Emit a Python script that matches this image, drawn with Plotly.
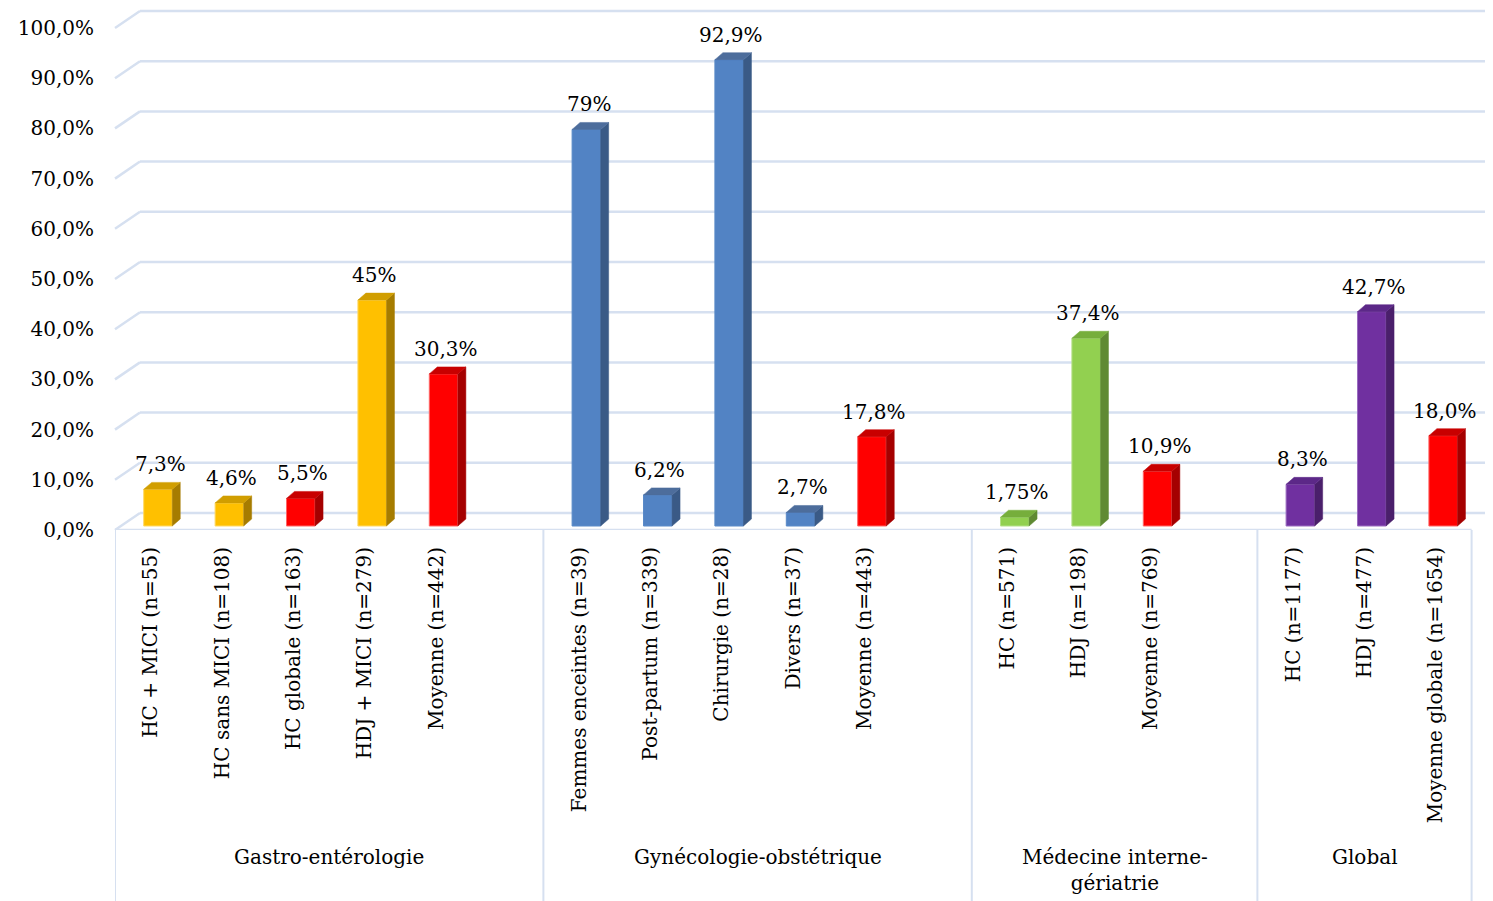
import plotly.graph_objects as go

# data
groups = ["Gastro-entérologie", "Gynécologie-obstétrique",
          "Médecine interne-<br>gériatrie", "Global"]
categories = [
    ["HC + MICI (n=55)", "HC sans MICI (n=108)", "HC globale (n=163)",
     "HDJ + MICI (n=279)", "Moyenne (n=442)"],
    ["Femmes enceintes (n=39)", "Post-partum (n=339)", "Chirurgie (n=28)",
     "Divers (n=37)", "Moyenne (n=443)"],
    ["HC (n=571)", "HDJ (n=198)", "Moyenne (n=769)"],
    ["HC (n=1177)", "HDJ (n=477)", "Moyenne globale (n=1654)"],
]
values = [7.3, 4.6, 5.5, 45, 30.3,
          79, 6.2, 92.9, 2.7, 17.8,
          1.75, 37.4, 10.9,
          8.3, 42.7, 18.0]
value_labels = ["7,3%", "4,6%", "5,5%", "45%", "30,3%",
                "79%", "6,2%", "92,9%", "2,7%", "17,8%",
                "1,75%", "37,4%", "10,9%",
                "8,3%", "42,7%", "18,0%"]
blank_after = [1, 1, 1, 0]   # empty category slot after each group
y_ticks = [0, 10, 20, 30, 40, 50, 60, 70, 80, 90, 100]

# colours: (front, side, top, outline)
GOLD = ("#FFC000", "#A67C00", "#D19E00", "#FFD966")
RED = ("#FF0000", "#A50000", "#C80000", "#FF6666")
BLUE = ("#5283C4", "#3A5A86", "#4D6D9C", "#5A8AC8")
GREEN = ("#92D050", "#5F8A33", "#76AE3C", "#B5E08A")
PURPLE = ("#7030A0", "#4A1F6B", "#5C2888", "#9A6CC0")
bar_colors = [GOLD, GOLD, RED, GOLD, RED,
              BLUE, BLUE, BLUE, BLUE, RED,
              GREEN, GREEN, RED,
              PURPLE, PURPLE, RED]

FONT = "DejaVu Serif"
GRID = "#D6E0F0"

# slot positions
xs, tick_text, bounds, centers = [], [], [], []
pos = 0
bounds.append(pos - 0.5)
for cats, gap in zip(categories, blank_after):
    start = pos
    for c in cats:
        xs.append(pos)
        tick_text.append(c)
        pos += 1
    pos += gap
    bounds.append(pos - 0.5)
    centers.append((start - 0.5 + pos - 0.5) / 2)

bar_w = 0.4
dx = 0.112    # depth offset, x units
dy = 1.39     # depth offset, y units
back = 3.39   # wall depth in label-axis units
s = 5.02      # px per percent
plot_h = 521
plot_w = 1378

fig = go.Figure()

fig.add_trace(go.Bar(
    x=xs, y=values, width=bar_w,
    marker=dict(color=[c[0] for c in bar_colors],
                line=dict(color=[c[3] for c in bar_colors], width=1)),
    hoverinfo="skip", showlegend=False,
))

for x, v, col in zip(xs, values, bar_colors):
    xl, xr = x - bar_w / 2, x + bar_w / 2
    # side face
    fig.add_trace(go.Scatter(
        x=[xr, xr + dx, xr + dx, xr, xr],
        y=[0, dy, v + dy, v, 0],
        fill="toself", fillcolor=col[1], mode="lines",
        line=dict(color=col[1], width=0.5),
        hoverinfo="skip", showlegend=False,
    ))
    # top face
    fig.add_trace(go.Scatter(
        x=[xl, xl + dx, xr + dx, xr, xl],
        y=[v, v + dy, v + dy, v, v],
        fill="toself", fillcolor=col[2], mode="lines",
        line=dict(color=col[2], width=0.5),
        hoverinfo="skip", showlegend=False,
    ))

# invisible trace to activate the label axes
fig.add_trace(go.Scatter(x=[xs[0]], y=[0], xaxis="x2", yaxis="y2",
                         mode="markers", marker=dict(opacity=0),
                         hoverinfo="skip", showlegend=False))

for x, v, t in zip(xs, values, value_labels):
    fig.add_annotation(x=x + 0.03, y=v + dy, xref="x", yref="y", text=t,
                       showarrow=False, yanchor="bottom", yshift=4,
                       font=dict(family=FONT, size=20, color="black"))

shapes = []
# back wall gridlines and left wall diagonals
for v in y_ticks:
    shapes.append(dict(type="line", xref="paper", yref="y2",
                       x0=25 / plot_w, x1=1, y0=v + back, y1=v + back,
                       line=dict(color=GRID, width=2.5), layer="below"))
    shapes.append(dict(type="line", xref="paper", yref="y2",
                       x0=0, x1=25 / plot_w, y0=v, y1=v + back,
                       line=dict(color=GRID, width=2.5), layer="below"))
# floor front edge
shapes.append(dict(type="line", xref="x2", yref="y2",
                   x0=bounds[0], x1=bounds[-1], y0=0, y1=0,
                   line=dict(color=GRID, width=2.5), layer="below"))
# group dividers
for b in bounds:
    shapes.append(dict(type="line", xref="x2", yref="paper",
                       x0=b, x1=b, y0=0, y1=-0.72,
                       line=dict(color=GRID, width=2)))

for c, g in zip(centers, groups):
    fig.add_annotation(x=c, y=-0.601, xref="x2", yref="paper", text=g,
                       showarrow=False, yanchor="top",
                       font=dict(family=FONT, size=20, color="black"))

fig.update_layout(
    width=1485, height=893, autosize=False,
    margin=dict(l=107, r=0, t=1, b=371, autoexpand=False),
    paper_bgcolor="white", plot_bgcolor="white",
    font=dict(family=FONT, size=20, color="black"),
    shapes=shapes,
    xaxis=dict(range=[-0.602, -0.602 + plot_w / 71.4], visible=False,
               fixedrange=True),
    yaxis=dict(range=[-4 / s, -4 / s + plot_h / s], visible=False,
               fixedrange=True),
    xaxis2=dict(overlaying="x", range=[-0.5, -0.5 + plot_w / 71.4],
                anchor="y2", side="bottom", tickmode="array", tickvals=xs,
                ticktext=tick_text, tickangle=-90, ticks="",
                ticklabelstandoff=12, showgrid=False, zeroline=False,
                showline=False, fixedrange=True,
                tickfont=dict(family=FONT, size=20, color="black")),
    yaxis2=dict(overlaying="y", range=[0, plot_h / s], anchor="x2",
                side="left", tickmode="array", tickvals=y_ticks,
                ticktext=[f"{v:.1f}".replace(".", ",") + "%" for v in y_ticks],
                ticks="", ticklabelstandoff=20, showgrid=False,
                zeroline=False, showline=False, fixedrange=True,
                tickfont=dict(family=FONT, size=20, color="black")),
)

fig.write_html("out.html")
